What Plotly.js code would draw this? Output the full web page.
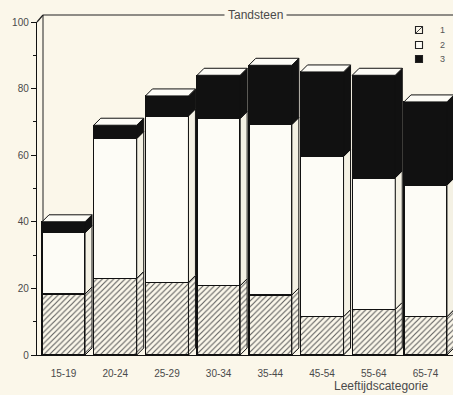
<!DOCTYPE html>
<html>
<head>
<meta charset="utf-8">
<script src="https://cdn.plot.ly/plotly-3.0.1.min.js"></script>
<style>
html,body{margin:0;padding:0;background:#fbf7ea;}
#chart{width:453px;height:395px;}
</style>
</head>
<body>
<div id="chart"></div>
<script>
// ---- data ----
const categories = ['15-19','20-24','25-29','30-34','35-44','45-54','55-64','65-74'];
const seriesNames = ['1','2','3'];
const part1 = [18.3, 23, 21.8, 20.8, 18, 11.5, 13.7, 11.5];   // hatched
const part2 = [18.4, 42, 50, 50.2, 51.2, 48.1, 39.5, 39.5];   // white
const part3 = [3.3, 4, 6, 13, 17.8, 25.4, 30.8, 25];          // black
const yTicks = [0, 20, 40, 60, 80, 100];

// ---- geometry ----
const W = 453, H = 395;
const M = {l: 37, r: 0, t: 22, b: 40};
const plotW = W - M.l - M.r, plotH = H - M.t - M.b;
const xRange = [-0.513, 7.533];
const yRange = [0, 100];
const pxX = plotW / (xRange[1] - xRange[0]);
const pxY = plotH / (yRange[1] - yRange[0]);
const depthPx = 7;
const dx = depthPx / pxX, dy = depthPx / pxY;
const barW = 0.832;

const bg = '#fbf7ea';
const ink = '#111111';
const txt = '#4a4a4a';
const FONT = 'Liberation Sans, Arial, sans-serif';
const hatch = {shape: '/', fgcolor: '#5e5e5e', bgcolor: bg, size: 4, solidity: 0.28};

const xs = categories.map((c, i) => i);

const traces = [];
traces.push({type: 'bar', name: seriesNames[0], x: xs, y: part1, width: barW,
  marker: {color: bg, pattern: hatch, line: {color: ink, width: 1.4}}, hoverinfo: 'none'});
traces.push({type: 'bar', name: seriesNames[1], x: xs, y: part2, width: barW,
  marker: {color: '#fdfcf6', line: {color: ink, width: 1.4}}, hoverinfo: 'none'});
traces.push({type: 'bar', name: seriesNames[2], x: xs, y: part3, width: barW,
  marker: {color: ink, line: {color: ink, width: 1.4}}, hoverinfo: 'none'});

// 3D side and top faces, derived from the data through the axis scales
function face(xsP, ysP, fillcolor, pattern) {
  const t = {type: 'scatter', mode: 'lines', x: xsP, y: ysP, fill: 'toself',
    fillcolor: fillcolor, line: {color: ink, width: 1}, showlegend: false,
    hoverinfo: 'skip', cliponaxis: true};
  if (pattern) t.fillpattern = pattern;
  return t;
}
xs.forEach((xc, i) => {
  const xl = xc - barW / 2, xr = xc + barW / 2;
  const b1 = part1[i], b2 = b1 + part2[i], b3 = b2 + part3[i];
  const segs = [[0, b1, bg, hatch], [b1, b2, '#f4f1e4', null], [b2, b3, ink, null]];
  segs.forEach(s => {
    traces.push(face([xr, xr + dx, xr + dx, xr, xr], [s[0], s[0] + dy, s[1] + dy, s[1], s[0]], s[2], s[3]));
  });
  traces.push(face([xl, xl + dx, xr + dx, xr, xl], [b3, b3 + dy, b3 + dy, b3, b3], '#fdfcf6', null));
});

// paper-space helpers for frame and legend
const px2paperX = p => (p - M.l) / plotW;
const px2paperY = p => 1 - (p - M.t) / plotH;

const legendRows = [30, 45, 59];
const legendFills = [bg, '#fdfcf6', ink];
const shapes = [
  {type: 'line', xref: 'paper', yref: 'paper', x0: px2paperX(43), x1: px2paperX(453),
    y0: px2paperY(15), y1: px2paperY(15), line: {color: '#222', width: 1.2}},
  {type: 'line', xref: 'paper', yref: 'paper', x0: 0, x1: px2paperX(43),
    y0: 1, y1: px2paperY(15), line: {color: '#222', width: 1.2}},
  {type: 'line', xref: 'paper', yref: 'paper', x0: px2paperX(43), x1: px2paperX(43),
    y0: px2paperY(15), y1: px2paperY(349), line: {color: '#222', width: 1}, layer: 'below'}
];
const annotations = [
  {text: 'Tandsteen', xref: 'paper', yref: 'paper', x: px2paperX(255), y: px2paperY(15),
    xanchor: 'center', yanchor: 'middle', showarrow: false, bgcolor: bg,
    borderpad: 3, font: {family: FONT, size: 12, color: txt}},
  {text: 'Leeftijdscategorie', xref: 'paper', yref: 'paper', x: px2paperX(381), y: px2paperY(386),
    xanchor: 'center', yanchor: 'middle', showarrow: false,
    font: {family: FONT, size: 12, color: txt}}
];
seriesNames.forEach((nm, k) => {
  const cy = legendRows[k];
  shapes.push({type: 'rect', xref: 'paper', yref: 'paper',
    x0: px2paperX(415.5), x1: px2paperX(422.5), y0: px2paperY(cy - 3.5), y1: px2paperY(cy + 3.5),
    fillcolor: legendFills[k], line: {color: '#222', width: 1.1}});
  if (k === 0) {
    shapes.push({type: 'line', xref: 'paper', yref: 'paper',
      x0: px2paperX(415.5), x1: px2paperX(422.5), y0: px2paperY(cy + 3.5), y1: px2paperY(cy - 3.5),
      line: {color: '#444', width: 1}});
  }
  annotations.push({text: nm, xref: 'paper', yref: 'paper', x: px2paperX(438), y: px2paperY(cy),
    xanchor: 'left', yanchor: 'middle', showarrow: false,
    font: {family: FONT, size: 9, color: '#555'}});
});

const layout = {
  width: W, height: H,
  margin: M,
  paper_bgcolor: bg, plot_bgcolor: bg,
  barmode: 'stack',
  showlegend: false,
  font: {family: FONT, color: txt},
  xaxis: {range: xRange, tickmode: 'array', tickvals: xs, ticktext: categories,
    showgrid: false, zeroline: false, showline: true, linecolor: ink, linewidth: 1.2,
    ticks: '', ticklabelstandoff: 9, tickfont: {family: FONT, size: 10, color: txt},
    fixedrange: true, automargin: false},
  yaxis: {range: yRange, tickmode: 'array', tickvals: yTicks,
    showgrid: false, zeroline: false, showline: true, linecolor: ink, linewidth: 1.2,
    ticks: 'outside', ticklen: 5, tickwidth: 1, tickcolor: ink,
    minor: {dtick: 10, ticks: 'outside', ticklen: 3, tickcolor: ink},
    tickfont: {family: FONT, size: 10, color: txt}, fixedrange: true, automargin: false},
  shapes: shapes,
  annotations: annotations
};

Plotly.newPlot('chart', traces, layout, {staticPlot: true, displayModeBar: false});
</script>
</body>
</html>
